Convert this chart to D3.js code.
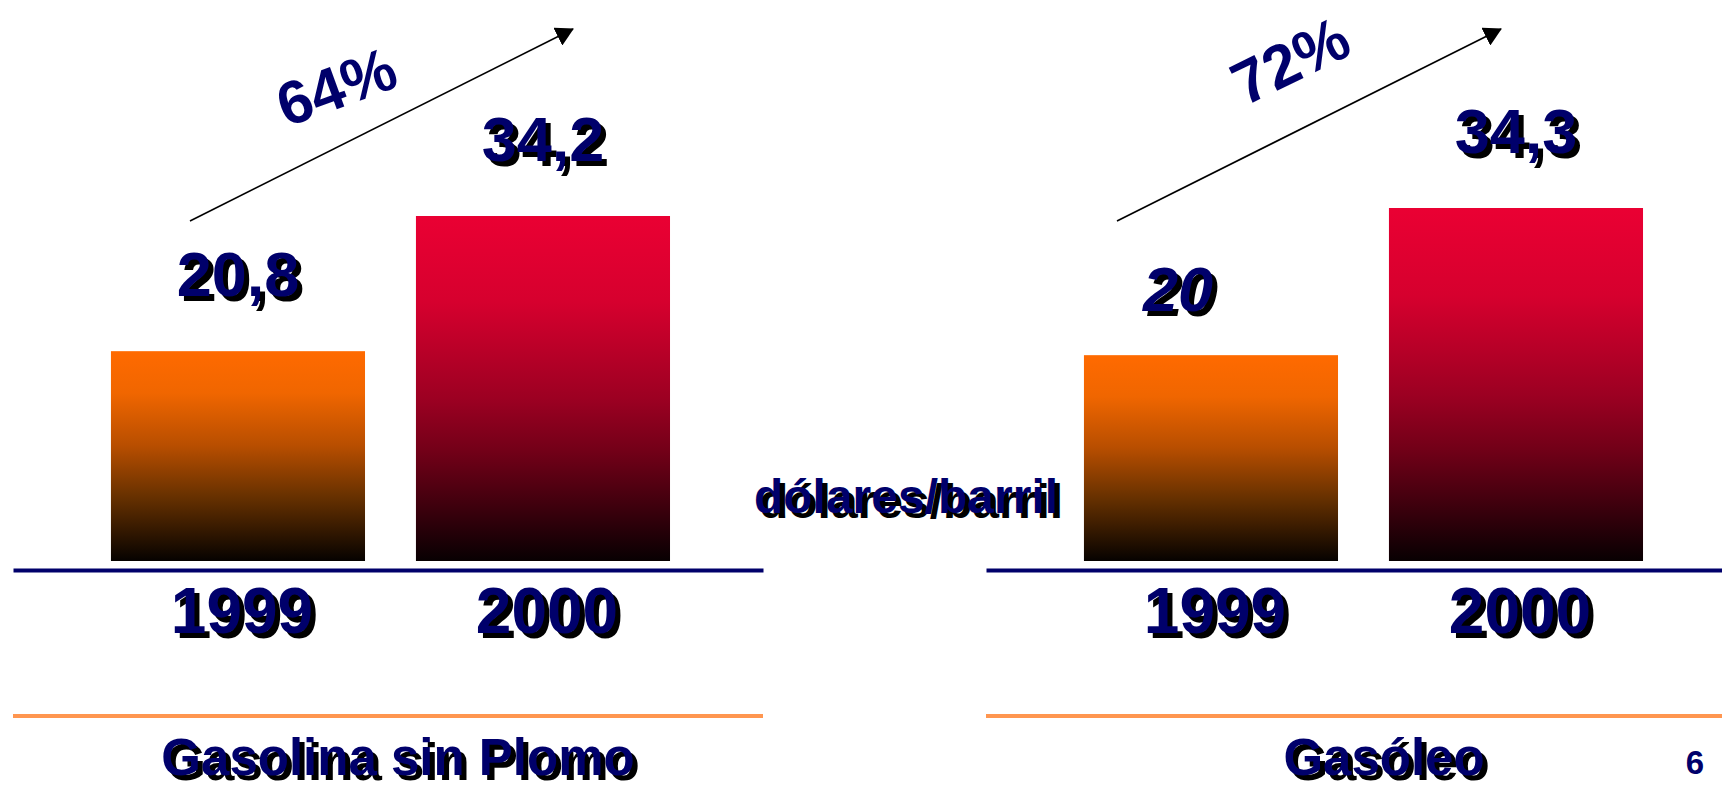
<!DOCTYPE html>
<html>
<head>
<meta charset="utf-8">
<script src="https://cdn.jsdelivr.net/npm/d3@7"></script>
<style>
  body { margin: 0; background: #fff; }
  text { font-family: "Liberation Sans", Arial, sans-serif; font-weight: bold; }
</style>
</head>
<body>
<div id="chart"></div>
<script>

// data
const years = ["1999", "2000"];
const panelTitles = ["Gasolina sin Plomo", "Gasóleo"];
const gasolinaPrices = [20.8, 34.2];
const gasoleoPrices = [20, 34.3];
const growthLabels = ["64%", "72%"];
const unitLabel = "dólares/barril";
const pageNumber = "6";

const W = 1722, H = 785;
const navy = "#00006b";
const baseY = 561;

// spanish decimal comma: 20,8
const es = d3.formatLocale({decimal: ",", thousands: ".", grouping: [3], currency: ["", " €"]});
const fmtValue = es.format("~g");

// panel layout
const panels = [
  {title: panelTitles[0], values: gasolinaPrices, growth: growthLabels[0],
   x0: 13, x1: 763, yTop: 216, titleX: 398,
   arrow: [[190, 221], [573, 29]], growthAt: [336, 86], growthAngle: -20},
  {title: panelTitles[1], values: gasoleoPrices, growth: growthLabels[1],
   x0: 986, x1: 1736, yTop: 208, titleX: 1384,
   arrow: [[1117, 221], [1501, 29]], growthAt: [1290, 60], growthAngle: -26}
];

const svg = d3.select("#chart")
  .append("svg")
    .attr("width", W)
    .attr("height", H);

svg.append("rect").attr("width", W).attr("height", H).attr("fill", "#fff");

// gradients, bright at the top fading to black
const defs = svg.append("defs");
const gradients = [
  {id: "gradOrange", stops: [[0, "#ff6a00"], [0.2, "#f06600"], [0.45, "#b84e00"], [0.7, "#653000"], [1, "#060200"]]},
  {id: "gradRed", stops: [[0, "#ea0033"], [0.25, "#d6002e"], [0.53, "#9c0022"], [0.68, "#730018"], [0.83, "#42000e"], [1, "#080002"]]}
];
gradients.forEach(g => {
  const lg = defs.append("linearGradient")
    .attr("id", g.id)
    .attr("x1", 0).attr("y1", 0).attr("x2", 0).attr("y2", 1);
  lg.selectAll("stop")
    .data(g.stops)
    .join("stop")
      .attr("offset", d => d[0])
      .attr("stop-color", d => d[1]);
});

defs.append("marker")
    .attr("id", "arrowHead")
    .attr("markerUnits", "userSpaceOnUse")
    .attr("viewBox", "0 -10 18 20")
    .attr("refX", 17)
    .attr("refY", 0)
    .attr("markerWidth", 18)
    .attr("markerHeight", 20)
    .attr("orient", "auto")
  .append("path")
    .attr("d", "M0,-10L18,0L0,10Z")
    .attr("fill", "#000");

// navy text with a black drop shadow
function shadowText(sel, x, y, str, size, italic) {
  const g = sel.append("g")
    .attr("font-size", size)
    .attr("text-anchor", "middle");
  if (italic) g.attr("font-style", "italic");
  g.append("text").attr("x", x + 5).attr("y", y + 5).attr("fill", "#000").text(str);
  g.append("text").attr("x", x).attr("y", y).attr("fill", navy).text(str);
}

panels.forEach((p, pi) => {
  const g = svg.append("g");

  const x = d3.scaleBand()
    .domain(years)
    .range([p.x0, p.x1])
    .paddingInner(0.167)
    .paddingOuter(0.313)
    .align(0.513);

  const y = d3.scaleLinear()
    .domain([0, d3.max(p.values)])
    .range([baseY, p.yTop]);

  // bars
  g.selectAll("rect.bar")
    .data(p.values)
    .join("rect")
      .attr("class", "bar")
      .attr("x", (d, i) => x(years[i]))
      .attr("y", d => y(d))
      .attr("width", x.bandwidth())
      .attr("height", d => y(0) - y(d))
      .attr("fill", (d, i) => i === 0 ? "url(#gradOrange)" : "url(#gradRed)");

  // value labels (the diesel 1999 one is italic and sits lower/left on the slide)
  p.values.forEach((v, i) => {
    const odd = pi === 1 && i === 0;
    const cx = x(years[i]) + x.bandwidth() / 2 + (odd ? -33 : 0);
    shadowText(g, cx, y(v) - (odd ? 44 : 55), fmtValue(v), 63, odd);
  });

  // category axis
  const axis = g.append("g")
    .attr("transform", `translate(0, 570)`)
    .call(d3.axisBottom(x).tickSize(0).tickSizeOuter(0));
  axis.select(".domain").attr("stroke", navy).attr("stroke-width", 4);
  axis.selectAll(".tick text").remove();
  years.forEach(yr => {
    shadowText(g, x(yr) + x.bandwidth() / 2 + 4, 633, yr, 64, false);
  });

  // orange rule and panel title
  g.append("line")
    .attr("x1", p.x0).attr("x2", p.x1)
    .attr("y1", 716).attr("y2", 716)
    .attr("stroke", "#ff9650")
    .attr("stroke-width", 4);
  shadowText(g, p.titleX, 775, p.title, 51, false);

  // growth arrow
  g.append("line")
    .attr("x1", p.arrow[0][0]).attr("y1", p.arrow[0][1])
    .attr("x2", p.arrow[1][0]).attr("y2", p.arrow[1][1])
    .attr("stroke", "#000")
    .attr("stroke-width", 1.6)
    .attr("marker-end", "url(#arrowHead)");

  g.append("text")
    .attr("transform", `translate(${p.growthAt[0]},${p.growthAt[1]}) rotate(${p.growthAngle})`)
    .attr("text-anchor", "middle")
    .attr("dy", "0.36em")
    .attr("font-size", 61)
    .attr("fill", navy)
    .text(p.growth);
});

shadowText(svg, 906, 513, unitLabel, 48, false);

svg.append("text")
  .attr("x", 1695)
  .attr("y", 774)
  .attr("text-anchor", "middle")
  .attr("font-size", 33)
  .attr("fill", navy)
  .text(pageNumber);

</script>
</body>
</html>
